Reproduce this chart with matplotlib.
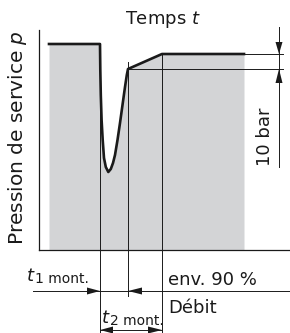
import matplotlib
matplotlib.use("Agg")
import matplotlib.pyplot as plt
import numpy as np

# pressure curve (t, p) in drawing units, origin at the axis corner
curve_t = [10, 61, 61.3, 61.8, 62.6, 63.7, 65, 66.8, 69.3, 71.8, 74, 76, 78.5, 81, 83.5, 86, 87.8, 89, 123, 205]
curve_p = [206, 206, 180, 155, 130, 110, 92, 83, 78, 81, 87, 95, 110, 127, 145, 163, 175, 181, 196, 196]

# marker times and pressure levels
t1_end = 61
t_rise = 89
t_90 = 123
p_steady = 196
p_90 = 181
t_dim = 240

ink = "#1a1a1a"
gray = "#d3d4d6"
fs = 13

fig = plt.figure(figsize=(2.9, 3.33), dpi=100)
ax = fig.add_axes([0, 0, 1, 1])
ax.set_xlim(-39, 251)
ax.set_ylim(-83, 250)
ax.axis("off")

# gray area and curve
ax.fill_between(curve_t, curve_p, 0, color=gray, lw=0)
ax.plot(curve_t, curve_p, color=ink, lw=1.9, solid_joinstyle="round")

# axes
ax.plot([0, 0], [0, 220], color=ink, lw=0.9)
ax.plot([0, 251], [0, 0], color=ink, lw=0.9)

# guide lines
thin = dict(color=ink, lw=0.7)
ax.plot([t1_end, t1_end], [207, -83], **thin)
ax.plot([t_rise, t_rise], [188, -46], **thin)
ax.plot([t_90, t_90], [197, -83], **thin)
ax.plot([t_90, 244], [p_steady, p_steady], **thin)
ax.plot([t_rise, 244], [p_90, p_90], **thin)
ax.plot([t_dim, t_dim], [223, 83], **thin)
ax.plot([-6, 251], [-41, -41], **thin)
ax.plot([t1_end, t_90], [-80, -80], **thin)


def head(x, y, dx, dy, length=13, width=8):
    px, py = -dy, dx
    bx, by = x - dx * length, y - dy * length
    ax.fill([x, bx + px * width / 2, bx - px * width / 2],
            [y, by + py * width / 2, by - py * width / 2], color=ink, lw=0)


head(t_dim, p_steady, 0, -1, 12, 7)
head(t_dim, p_90, 0, 1, 14, 7)
head(t1_end, -41, 1, 0, 13, 7)
head(t_rise, -41, -1, 0, 14, 7)
head(t1_end, -80, -1, 0, 13, 7)
head(t_90, -80, 1, 0, 14, 7)

# texts
ax.text(124, 230, "Temps $t$", fontsize=fs, ha="center", va="center", color=ink)
ax.text(-21, 112, "Pression de service $p$", fontsize=14.5, rotation=90,
        ha="center", va="center", color=ink)
ax.text(226, 113, "10 bar", fontsize=fs, rotation=90, ha="center", va="center", color=ink)
ax.text(-12, -31, "t", fontsize=fs, style="italic", ha="left", va="baseline", color=ink)
ax.text(-4, -33, "1 mont.", fontsize=10, ha="left", va="baseline", color=ink)
ax.text(129, -35, "env. 90 %", fontsize=fs, ha="left", va="baseline", color=ink)
ax.text(129, -63, "Débit", fontsize=fs, ha="left", va="baseline", color=ink)
ax.text(63, -73, "t", fontsize=fs, style="italic", ha="left", va="baseline", color=ink)
ax.text(71, -75, "2 mont.", fontsize=10, ha="left", va="baseline", color=ink)

fig.savefig("out.png", dpi=100, facecolor="white")
